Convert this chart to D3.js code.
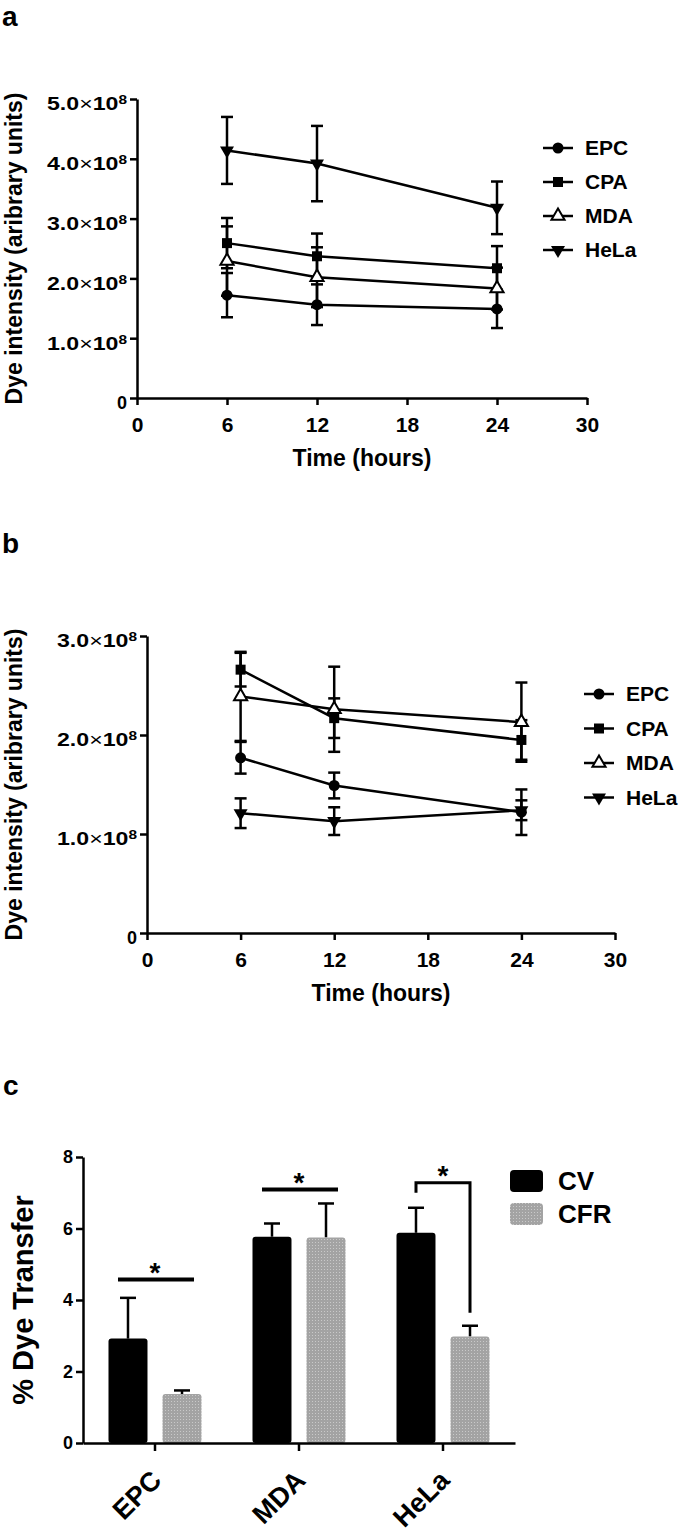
<!DOCTYPE html>
<html>
<head>
<meta charset="utf-8">
<script src="https://cdn.jsdelivr.net/npm/d3@7"></script>
<style>
  body { margin: 0; background: #fff; }
  svg { display: block; font-family: "Liberation Sans", Arial, sans-serif; }
</style>
</head>
<body>
<div id="chart"></div>
<script>
// ---- data ----
var times = [6, 12, 24];
var cells = ["EPC", "CPA", "MDA", "HeLa"];

// panel a (x 1e8)
var aEPC = [1.72, 1.56, 1.49], aEPCErr = [0.37, 0.34, 0.32];
var aCPA = [2.59, 2.37, 2.17], aCPAErr = [0.42, 0.38, 0.37];
var aMDA = [2.29, 2.02, 1.83], aMDAErr = [0.58, 0.50, 0.35];
var aHeLa = [4.14, 3.92, 3.18], aHeLaErr = [0.56, 0.63, 0.44];

// panel b (x 1e8)
var bEPC = [1.77, 1.49, 1.22], bEPCErr = [0.16, 0.13, 0.23];
var bCPA = [2.66, 2.17, 1.95], bCPAErr = [0.17, 0.20, 0.20];
var bMDA = [2.39, 2.26, 2.13], bMDAErr = [0.45, 0.43, 0.40];
var bHeLa = [1.21, 1.13, 1.24], bHeLaErr = [0.15, 0.14, 0.10];

var aTicks = [0, 1, 2, 3, 4, 5];
var bTicks = [0, 1, 2, 3];
var timeTicks = [0, 6, 12, 18, 24, 30];

// panel c
var groups = ["EPC", "MDA", "HeLa"];
var treatments = ["CV", "CFR"];
var cvMean = [2.92, 5.77, 5.88], cvErr = [1.14, 0.37, 0.70];
var cfrMean = [1.37, 5.75, 2.98], cfrErr = [0.10, 0.95, 0.30];
var cTicks = [0, 2, 4, 6, 8];
var sigType = ["line", "line", "bracket"];
var sigY = [4.57, 7.09, 7.28];
var bracketLegs = [null, null, [7.0, 3.64]];

var svg = d3.select("#chart").append("svg")
    .attr("width", 700).attr("height", 1535);

var defs = svg.append("defs");
var pat = defs.append("pattern").attr("id", "dots")
    .attr("width", 3).attr("height", 3).attr("patternUnits", "userSpaceOnUse");
pat.append("rect").attr("width", 3).attr("height", 3).attr("fill", "#a3a3a3");
pat.append("rect").attr("width", 1).attr("height", 1).attr("fill", "#c9c9c9");

var symbols = {
    EPC: {type: d3.symbolCircle, size: 95, fill: "#000", rot: 0},
    CPA: {type: d3.symbolSquare, size: 100, fill: "#000", rot: 0},
    MDA: {type: d3.symbolTriangle, size: 75, fill: "#fff", rot: 0},
    HeLa: {type: d3.symbolTriangle, size: 85, fill: "#000", rot: 180}
};

function drawMarker(g, name, x, y) {
    var s = symbols[name];
    g.append("path")
        .attr("d", d3.symbol().type(s.type).size(s.size)())
        .attr("transform", "translate(" + x + "," + y + ") rotate(" + s.rot + ")")
        .attr("fill", s.fill)
        .attr("stroke", "#000")
        .attr("stroke-width", s.fill === "#fff" ? 2 : 0);
}

function sciLabel(sel, d) {
    sel.text(null);
    if (d === 0) { sel.text("0"); return; }
    sel.append("tspan").text(d.toFixed(1));
    sel.append("tspan").attr("font-weight", "normal").text("\u00d7");
    sel.append("tspan").text("10");
    sel.append("tspan").attr("font-size", 12).attr("dy", "-0.5em").text("8");
    sel.attr("textLength", 80).attr("lengthAdjust", "spacingAndGlyphs");
}

function linePanel(cfg) {
    var x = d3.scaleLinear().domain([0, 30]).range([cfg.x0, cfg.x1]);
    var y = d3.scaleLinear().domain([0, cfg.yMax]).range([cfg.y0, cfg.y1]);
    var g = svg.append("g");

    // y axis
    g.append("g")
        .attr("transform", "translate(" + cfg.x0 + ",0)")
        .call(d3.axisLeft(y).tickValues(cfg.ticks).tickSize(7).tickSizeOuter(0).tickPadding(3))
        .call(function(ax) {
            ax.select(".domain").attr("stroke-width", 2.5);
            ax.selectAll(".tick line").attr("stroke-width", 2.5);
            ax.selectAll(".tick text")
                .attr("font-size", 18).attr("font-weight", "bold").attr("fill", "#000")
                .attr("dy", "0.6em")
                .each(function(d) { sciLabel(d3.select(this), d); });
        });

    // x axis
    g.append("g")
        .attr("transform", "translate(0," + cfg.y0 + ")")
        .call(d3.axisBottom(x).tickValues(timeTicks).tickSize(7).tickSizeOuter(0).tickPadding(12))
        .call(function(ax) {
            ax.select(".domain").attr("stroke-width", 2.5);
            ax.selectAll(".tick line").attr("stroke-width", 2.5);
            ax.selectAll(".tick text")
                .attr("font-size", 21).attr("font-weight", "bold").attr("fill", "#000");
        });

    g.append("text")
        .attr("x", (cfg.x0 + cfg.x1) / 2).attr("y", cfg.y0 + 68)
        .attr("text-anchor", "middle").attr("font-size", 23).attr("font-weight", "bold")
        .text("Time (hours)");

    g.append("text")
        .attr("transform", "translate(" + 22 + "," + (cfg.y0 + cfg.y1) / 2 + ") rotate(-90)")
        .attr("text-anchor", "middle").attr("font-size", 23).attr("font-weight", "bold")
        .text("Dye intensity (aribrary units)");

    g.append("text")
        .attr("x", 2).attr("y", cfg.labelY)
        .attr("font-size", 28).attr("font-weight", "bold")
        .text(cfg.label);

    var line = d3.line().x(function(d) { return x(d.t); }).y(function(d) { return y(d.v); });

    cfg.series.forEach(function(s) {
        var pts = times.map(function(t, i) { return {t: t, v: s.mean[i], e: s.err[i]}; });
        var sg = g.append("g");
        // error bars
        pts.forEach(function(p) {
            var px = x(p.t);
            sg.append("line").attr("x1", px).attr("x2", px)
                .attr("y1", y(p.v - p.e)).attr("y2", y(p.v + p.e))
                .attr("stroke", "#000").attr("stroke-width", 2.5);
            [p.v - p.e, p.v + p.e].forEach(function(v) {
                sg.append("line").attr("x1", px - 6).attr("x2", px + 6)
                    .attr("y1", y(v)).attr("y2", y(v))
                    .attr("stroke", "#000").attr("stroke-width", 2.5);
            });
        });
        sg.append("path").datum(pts).attr("d", line)
            .attr("fill", "none").attr("stroke", "#000").attr("stroke-width", 2.5);
        pts.forEach(function(p) { drawMarker(sg, s.name, x(p.t), y(p.v)); });
    });

    // legend
    var lg = g.append("g");
    cfg.series.forEach(function(s, i) {
        var ly = cfg.legY + i * cfg.legStep;
        lg.append("line").attr("x1", cfg.legX - 15).attr("x2", cfg.legX + 15)
            .attr("y1", ly).attr("y2", ly).attr("stroke", "#000").attr("stroke-width", 2.5);
        drawMarker(lg, s.name, cfg.legX, ly);
        lg.append("text").attr("x", cfg.legX + 27).attr("y", ly + 7)
            .attr("font-size", 21).attr("font-weight", "bold").text(s.name);
    });
}

linePanel({
    label: "a", labelY: 26,
    x0: 137, x1: 587, y0: 398, y1: 99, yMax: 5, ticks: aTicks,
    legX: 558, legY: 148, legStep: 34,
    series: [
        {name: "EPC", mean: aEPC, err: aEPCErr},
        {name: "CPA", mean: aCPA, err: aCPAErr},
        {name: "MDA", mean: aMDA, err: aMDAErr},
        {name: "HeLa", mean: aHeLa, err: aHeLaErr}
    ]
});

linePanel({
    label: "b", labelY: 553,
    x0: 147, x1: 615, y0: 933, y1: 636, yMax: 3, ticks: bTicks,
    legX: 599, legY: 694, legStep: 34.5,
    series: [
        {name: "EPC", mean: bEPC, err: bEPCErr},
        {name: "CPA", mean: bCPA, err: bCPAErr},
        {name: "MDA", mean: bMDA, err: bMDAErr},
        {name: "HeLa", mean: bHeLa, err: bHeLaErr}
    ]
});

// ---- panel c ----
var cx = d3.scaleBand().domain(groups).range([83, 515]);
var cx1 = d3.scaleBand().domain(treatments).range([0, cx.bandwidth()])
    .paddingInner(0.278).paddingOuter(0.472);
var cy = d3.scaleLinear().domain([0, 8]).range([1443, 1157]);
var cg = svg.append("g");

cg.append("text").attr("x", 3).attr("y", 1095)
    .attr("font-size", 28).attr("font-weight", "bold").text("c");

var barData = [];
groups.forEach(function(gname, i) {
    barData.push({g: gname, t: "CV", v: cvMean[i], e: cvErr[i]});
    barData.push({g: gname, t: "CFR", v: cfrMean[i], e: cfrErr[i]});
});

barData.forEach(function(d) {
    var bx = cx(d.g) + cx1(d.t), bw = cx1.bandwidth(), mid = bx + bw / 2;
    cg.append("line").attr("x1", mid).attr("x2", mid)
        .attr("y1", cy(d.v)).attr("y2", cy(d.v + d.e))
        .attr("stroke", "#000").attr("stroke-width", 2.5);
    cg.append("line").attr("x1", mid - 8).attr("x2", mid + 8)
        .attr("y1", cy(d.v + d.e)).attr("y2", cy(d.v + d.e))
        .attr("stroke", "#000").attr("stroke-width", 2.5);
    cg.append("rect")
        .attr("x", bx).attr("y", cy(d.v))
        .attr("width", bw).attr("height", cy(0) - cy(d.v))
        .attr("rx", 3)
        .attr("fill", d.t === "CV" ? "#000" : "url(#dots)");
});

cg.append("g")
    .attr("transform", "translate(83,0)")
    .call(d3.axisLeft(cy).tickValues(cTicks).tickSize(7).tickSizeOuter(0).tickPadding(3))
    .call(function(ax) {
        ax.select(".domain").attr("stroke-width", 2.5);
        ax.selectAll(".tick line").attr("stroke-width", 2.5);
        ax.selectAll(".tick text").attr("font-size", 18).attr("font-weight", "bold").attr("fill", "#000");
    });

cg.append("g")
    .attr("transform", "translate(0,1443)")
    .call(d3.axisBottom(cx).tickSize(8).tickSizeOuter(0).tickFormat(""))
    .call(function(ax) {
        ax.select(".domain").attr("stroke-width", 2.5);
        ax.selectAll(".tick line").attr("stroke-width", 2.5);
    });

groups.forEach(function(gname) {
    var tx = cx(gname) + cx.bandwidth() / 2 + 8;
    cg.append("text")
        .attr("transform", "translate(" + tx + ",1482) rotate(-45)")
        .attr("text-anchor", "end").attr("font-size", 27).attr("font-weight", "bold")
        .text(gname);
});

cg.append("text")
    .attr("transform", "translate(33,1300) rotate(-90)")
    .attr("text-anchor", "middle").attr("font-size", 29).attr("font-weight", "bold")
    .text("% Dye Transfer");

// significance marks
groups.forEach(function(gname, i) {
    var cvMid = cx(gname) + cx1("CV") + cx1.bandwidth() / 2;
    var cfrMid = cx(gname) + cx1("CFR") + cx1.bandwidth() / 2;
    var yy = cy(sigY[i]);
    if (sigType[i] === "line") {
        cg.append("line").attr("x1", cvMid - 10).attr("x2", cfrMid + 12)
            .attr("y1", yy).attr("y2", yy).attr("stroke", "#000").attr("stroke-width", 4);
    } else {
        var legs = bracketLegs[i];
        cg.append("path")
            .attr("d", "M" + cvMid + "," + cy(legs[0]) + "V" + yy + "H" + cfrMid + "V" + cy(legs[1]))
            .attr("fill", "none").attr("stroke", "#000").attr("stroke-width", 3);
    }
    cg.append("text").attr("x", (cvMid + cfrMid) / 2).attr("y", yy + 2)
        .attr("text-anchor", "middle").attr("font-size", 28).attr("font-weight", "bold")
        .text("*");
});

// legend c
treatments.forEach(function(t, i) {
    var ly = 1170 + i * 33;
    cg.append("rect").attr("x", 510).attr("y", ly).attr("width", 33).attr("height", 22)
        .attr("rx", 4).attr("fill", t === "CV" ? "#000" : "url(#dots)");
    cg.append("text").attr("x", 558).attr("y", ly + 20)
        .attr("font-size", 26).attr("font-weight", "bold").text(t);
});
</script>
</body>
</html>
